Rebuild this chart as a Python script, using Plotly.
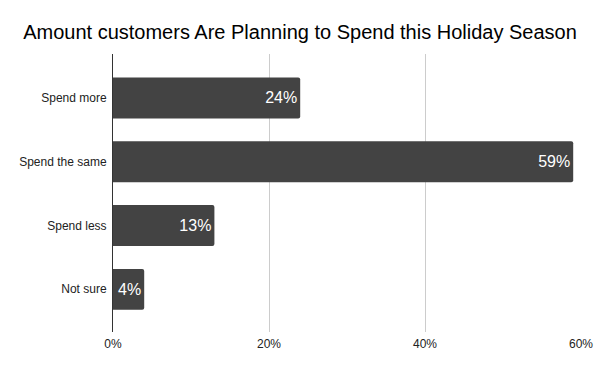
import plotly.graph_objects as go

categories = ["Spend more", "Spend the same", "Spend less", "Not sure"]
values = [24, 59, 13, 4]
labels = ["24%", "59%", "13%", "4%"]
tick_vals = [0, 20, 40, 60]
tick_text = ["0%", "20%", "40%", "60%"]

fig = go.Figure(
    go.Bar(
        x=values,
        y=categories,
        orientation="h",
        marker=dict(color="#434343", line=dict(width=0)),
        text=labels,
        textposition="inside",
        insidetextanchor="end",
        textfont=dict(color="white", size=16, family="Liberation Sans, Arial, sans-serif"),
        constraintext="none",
        hoverinfo="skip",
    )
)

fig.update_layout(
    width=600,
    height=371,
    margin=dict(l=113, r=19, t=54, b=39),
    paper_bgcolor="white",
    plot_bgcolor="white",
    bargap=0.36,
    barcornerradius=2,
    font=dict(family="Liberation Sans, Arial, sans-serif", color="#222222", size=12),
    title=dict(
        text="Amount customers Are Planning to Spend this Holiday Season",
        x=0.5,
        xref="container",
        xanchor="center",
        y=1 - 32 / 371,
        yref="container",
        yanchor="middle",
        font=dict(size=20, color="#000000", family="Liberation Sans, Arial, sans-serif"),
    ),
    showlegend=False,
)

fig.update_xaxes(
    range=[0, 60],
    tickvals=tick_vals,
    ticktext=tick_text,
    showgrid=True,
    gridcolor="#cccccc",
    gridwidth=1,
    zeroline=False,
    showline=False,
    ticks="",
    ticklabelstandoff=3,
    tickfont=dict(size=12, color="#222222"),
    automargin=False,
    fixedrange=True,
)
fig.update_yaxes(
    categoryorder="array",
    categoryarray=categories,
    range=[3.67, -0.69],
    showgrid=False,
    showline=True,
    linecolor="#333333",
    linewidth=1,
    ticks="",
    ticklabelstandoff=3,
    tickfont=dict(size=12, color="#222222"),
    automargin=False,
    fixedrange=True,
)

fig.write_html(
    "out.html",
    config={"displayModeBar": False},
    post_script="document.body.style.margin='0';document.body.style.padding='0';",
)
